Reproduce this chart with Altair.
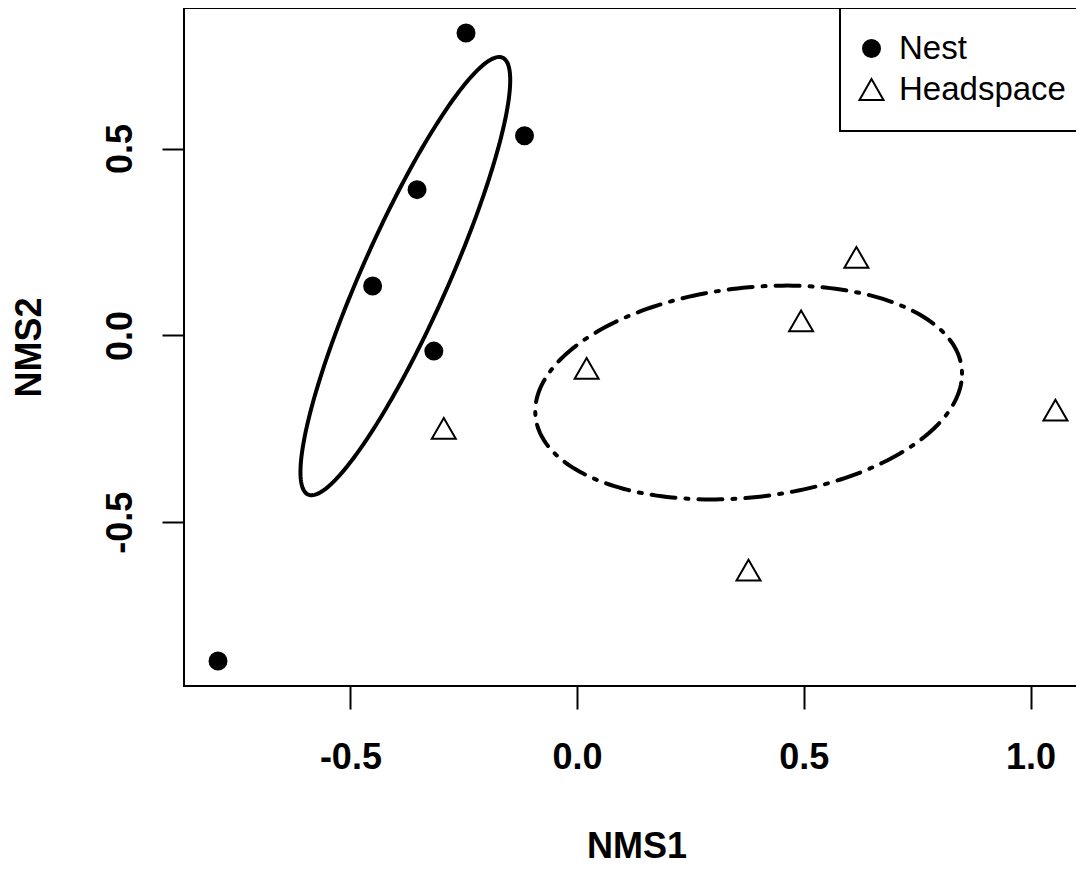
import numpy as np
import pandas as pd
import altair as alt

# ---- data ----
groups = ["Nest", "Headspace"]
nest_x = [-0.245, -0.116, -0.353, -0.451, -0.316, -0.792]
nest_y = [0.809, 0.534, 0.390, 0.132, -0.042, -0.871]
head_x = [-0.294, 0.021, 0.494, 0.616, 1.055, 0.378]
head_y = [-0.249, -0.088, 0.039, 0.209, -0.200, -0.628]
x_ticks = [-0.5, 0.0, 0.5, 1.0]
y_ticks = [-0.5, 0.0, 0.5]
x_domain = [-0.867, 1.129]
y_domain = [-0.938, 0.876]

pts = pd.DataFrame({
    "NMS1": nest_x + head_x,
    "NMS2": nest_y + head_y,
    "group": ["Nest"] * len(nest_x) + ["Headspace"] * len(head_x),
})


# 1-SD dispersion ellipse of each group (as vegan::ordiellipse kind="sd")
def sd_ellipse(xs, ys, n=240):
    xy = np.column_stack([xs, ys])
    c = xy.mean(axis=0)
    L = np.linalg.cholesky(np.cov(xy, rowvar=False))
    t = np.linspace(0, 2 * np.pi, n + 1)
    e = (L @ np.vstack([np.cos(t), np.sin(t)])).T + c
    return pd.DataFrame({"NMS1": e[:, 0], "NMS2": e[:, 1], "i": np.arange(n + 1)})


ell_nest = sd_ellipse(nest_x, nest_y)
ell_head = sd_ellipse(head_x, head_y)

FONT = "Liberation Sans"
LBL = "datum.value < 0 ? '-' + format(-datum.value, '.1f') : format(datum.value, '.1f')"

x_enc = alt.X(
    "NMS1:Q",
    scale=alt.Scale(domain=x_domain, nice=False, zero=False),
    axis=alt.Axis(
        title="NMS1", values=x_ticks, grid=False, domain=False,
        tickSize=23, tickWidth=2, tickColor="black",
        labelFont=FONT, labelFontSize=36, labelFontWeight="bold", labelColor="black",
        labelPadding=59, labelBaseline="alphabetic", labelExpr=LBL,
        labelFlush=False, labelOverlap=False,
        titleFont=FONT, titleFontSize=36, titleFontWeight="bold", titleColor="black",
        titleBaseline="alphabetic", titleY=171,
    ),
)
y_enc = alt.Y(
    "NMS2:Q",
    scale=alt.Scale(domain=y_domain, nice=False, zero=False),
    axis=alt.Axis(
        title="NMS2", values=y_ticks, grid=False, domain=False,
        tickSize=22, tickWidth=2, tickColor="black",
        labelFont=FONT, labelFontSize=36, labelFontWeight="bold", labelColor="black",
        labelAngle=270, labelAlign="center", labelBaseline="alphabetic",
        labelPadding=31, labelExpr=LBL, labelFlush=False, labelOverlap=False,
        titleFont=FONT, titleFontSize=36, titleFontWeight="bold", titleColor="black",
        titleAngle=270, titleAlign="center", titleBaseline="alphabetic",
        titleX=-144, titleY=339,
    ),
)

leg = alt.Legend(
    title=None, orient="none", legendX=656, legendY=0,
    strokeColor="black", fillColor="white", padding=24,
    labelFont=FONT, labelFontSize=33, labelColor="black", labelLimit=0,
    labelBaseline="middle", labelOffset=11, rowPadding=7, symbolOffset=-9,
    symbolStrokeColor="black", symbolStrokeWidth=2,
)

line_nest = alt.Chart(ell_nest).mark_line(
    color="black", strokeWidth=4, strokeCap="round"
).encode(x=x_enc, y=y_enc, order="i:Q")

line_head = alt.Chart(ell_head).mark_line(
    color="black", strokeWidth=4, strokeCap="round", strokeDash=[3, 10, 24, 10]
).encode(x=x_enc, y=y_enc, order="i:Q")

points = alt.Chart(pts).mark_point(
    strokeWidth=2, opacity=1
).encode(
    x=x_enc, y=y_enc,
    shape=alt.Shape("group:N", scale=alt.Scale(domain=groups, range=["circle", "triangle-up"]), legend=leg),
    fill=alt.Fill("group:N", scale=alt.Scale(domain=groups, range=["black", "transparent"]), legend=leg),
    stroke=alt.Stroke("group:N", scale=alt.Scale(domain=groups, range=["black", "black"]), legend=leg),
    size=alt.Size("group:N", scale=alt.Scale(type="point", domain=groups, range=[289, 576], padding=0), legend=leg),
)

chart = alt.layer(line_nest, line_head, points).properties(
    width=905, height=678,
    autosize=alt.AutoSizeParams(type="none"),
    padding={"left": 176, "top": 0, "right": -13, "bottom": 178},
    background="white",
).configure_view(
    stroke="black", strokeWidth=2
).configure_legend(
    strokeWidth=2
)

chart.save("out.html", embed_options={"renderer": "svg", "actions": False})
